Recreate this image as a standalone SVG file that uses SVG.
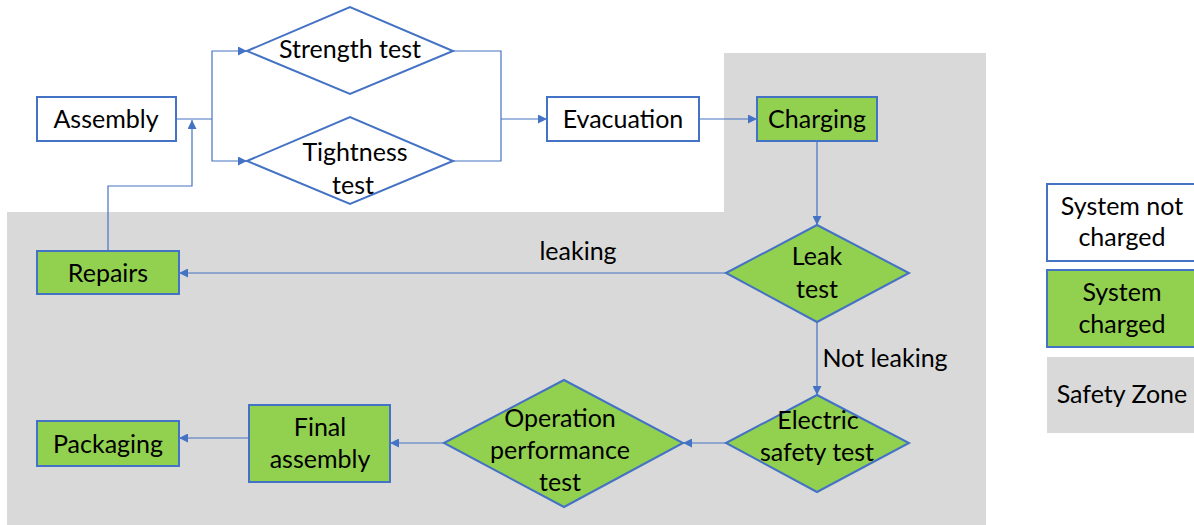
<svg xmlns="http://www.w3.org/2000/svg" width="1194" height="525" viewBox="0 0 1194 525">
<defs>
<style>
.n{fill:#fff;stroke:#4472C4;stroke-width:2}
.g{fill:#92D050;stroke:#4472C4;stroke-width:2}
.c{fill:none;stroke:#4472C4;stroke-width:1.2}
text{font-family:Lato,"Liberation Sans",sans-serif;font-size:25px;fill:#000;text-anchor:middle}
</style>
<marker id="a" viewBox="0 0 10 10" refX="10" refY="5" markerWidth="9" markerHeight="9" markerUnits="userSpaceOnUse" orient="auto">
<path d="M0,0L10,5L0,10z" fill="#4472C4"/>
</marker>
</defs>
<rect width="1194" height="525" fill="#fff"/>
<g id="safety-zone">
<polygon points="724,53 986,53 986,525 7,525 7,212 724,212" fill="#D9D9D9"/>
</g>
<g id="connectors">
<polyline class="c" points="176,119 212,119"/>
<polyline class="c" points="212,119 212,51 247,51" marker-end="url(#a)"/>
<polyline class="c" points="212,119 212,161 247,161" marker-end="url(#a)"/>
<polyline class="c" points="453,51 501,51 501,161 453,161"/>
<polyline class="c" points="501,119 547,119" marker-end="url(#a)"/>
<polyline class="c" points="699,119 757,119" marker-end="url(#a)"/>
<polyline class="c" points="817,141 817,225" marker-end="url(#a)"/>
<polyline class="c" points="726,273 179,273" marker-end="url(#a)"/>
<polyline class="c" points="817,322 817,395" marker-end="url(#a)"/>
<polyline class="c" points="726,443 683,443" marker-end="url(#a)"/>
<polyline class="c" points="444,443 390,443" marker-end="url(#a)"/>
<polyline class="c" points="249,438 179,438" marker-end="url(#a)"/>
<polyline class="c" points="108,251 108,186 192,186 192,120" marker-end="url(#a)"/>
<text x="578" y="260">leaking</text>
<text x="885" y="367">Not leaking</text>
</g>
<g id="assembly">
<rect class="n" x="37" y="97" width="139" height="44"/>
<text x="106" y="128">Assembly</text>
</g>
<g id="strength-test">
<polygon class="n" points="247,51 350,7 453,51 350,94"/>
<text x="350" y="58">Strength test</text>
</g>
<g id="tightness-test">
<polygon class="n" points="247,161 350,117 453,161 350,204"/>
<text x="355" y="161">Tightness</text>
<text x="353" y="194">test</text>
</g>
<g id="evacuation">
<rect class="n" x="547" y="97" width="152" height="44"/>
<text x="623" y="128">Evacuation</text>
</g>
<g id="charging">
<rect class="g" x="757" y="97" width="120" height="44"/>
<text x="817" y="128">Charging</text>
</g>
<g id="leak-test">
<polygon class="g" points="726,273 817,225 909,273 817,322"/>
<text x="817" y="265">Leak</text>
<text x="817" y="298">test</text>
</g>
<g id="repairs">
<rect class="g" x="37" y="251" width="142" height="43"/>
<text x="108" y="282">Repairs</text>
</g>
<g id="electric-safety-test">
<polygon class="g" points="726,443 817,395 909,443 817,492"/>
<text x="818" y="429">Electric</text>
<text x="817" y="461">safety test</text>
</g>
<g id="operation-performance-test">
<polygon class="g" points="444,443 564,380 683,443 564,507"/>
<text x="560" y="427">Operation</text>
<text x="560" y="459">performance</text>
<text x="560" y="491">test</text>
</g>
<g id="final-assembly">
<rect class="g" x="249" y="405" width="141" height="77"/>
<text x="320" y="436">Final</text>
<text x="320" y="468">assembly</text>
</g>
<g id="packaging">
<rect class="g" x="37" y="421" width="142" height="45"/>
<text x="108" y="453">Packaging</text>
</g>
<g id="legend">
<rect class="n" x="1047" y="184" width="160" height="77"/>
<text x="1122" y="215">System not</text>
<text x="1122" y="246">charged</text>
<rect class="g" x="1047" y="270" width="160" height="77"/>
<text x="1122" y="301">System</text>
<text x="1122" y="333">charged</text>
<rect x="1047" y="357" width="160" height="76" fill="#D9D9D9"/>
<text x="1122" y="403">Safety Zone</text>
</g>
</svg>
